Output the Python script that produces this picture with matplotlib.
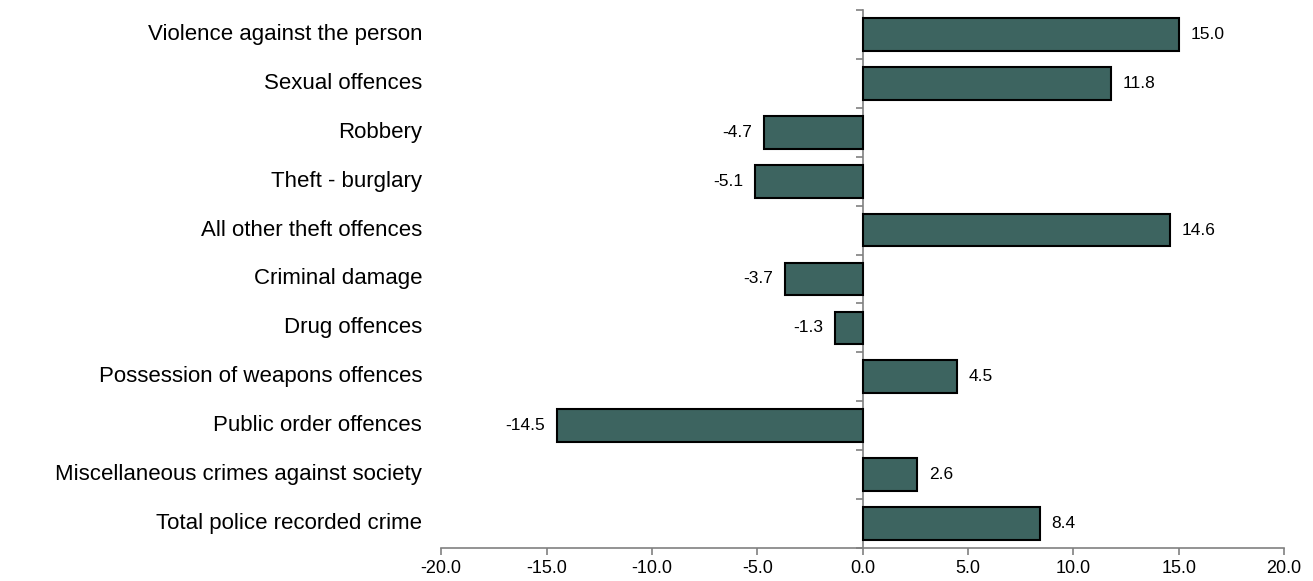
import numpy as np
import matplotlib.pyplot as plt
from matplotlib import rcParams
rcParams.update({'font.family': 'Liberation Sans', 'font.size': 12})

cats = ['Violence against the person', 'Sexual offences', 'Robbery', 'Theft - burglary',
        'All other theft offences', 'Criminal damage', 'Drug offences',
        'Possession of weapons offences', 'Public order offences',
        'Miscellaneous crimes against society', 'Total police recorded crime']
vals = [15.0, 11.8, -4.7, -5.1, 14.6, -3.7, -1.3, 4.5, -14.5, 2.6, 8.4]

fig = plt.figure(figsize=(13.13, 5.81), dpi=100)
ax = fig.add_axes([0.336, 0.0568, 0.642, 0.926])
y = np.arange(len(cats))
ax.barh(y, vals, height=0.67, color='#3d6460', edgecolor='black', linewidth=1.5, zorder=3)
ax.set_ylim(len(cats) - 0.5, -0.5)
ax.set_xlim(-20, 20)
ax.set_xticks(np.arange(-20, 21, 5))
ax.set_xticklabels(['%.1f' % t for t in np.arange(-20, 21, 5)], fontsize=13)

# category names on the left, axis line at zero
for yi, c in zip(y, cats):
    ax.text(-20.9, yi, c, ha='right', va='center', fontsize=16)
for yi, v in zip(y, vals):
    if v >= 0:
        ax.text(v + 0.55, yi, '%.1f' % v, ha='left', va='center', fontsize=12.5)
    else:
        ax.text(v - 0.55, yi, '%.1f' % v, ha='right', va='center', fontsize=12.5)

ax.spines['left'].set_position(('data', 0))
ax.spines['top'].set_visible(False)
ax.spines['right'].set_visible(False)
for s in ['left', 'bottom']:
    ax.spines[s].set_color('#808080')
    ax.spines[s].set_linewidth(1.2)
ax.set_yticks(np.arange(-0.5, len(cats), 1))
ax.set_yticklabels([])
ax.tick_params(axis='y', length=5, color='#808080', width=1.2)
ax.tick_params(axis='x', length=5, color='#808080', width=1.2, pad=4)

plt.savefig('out.png')
